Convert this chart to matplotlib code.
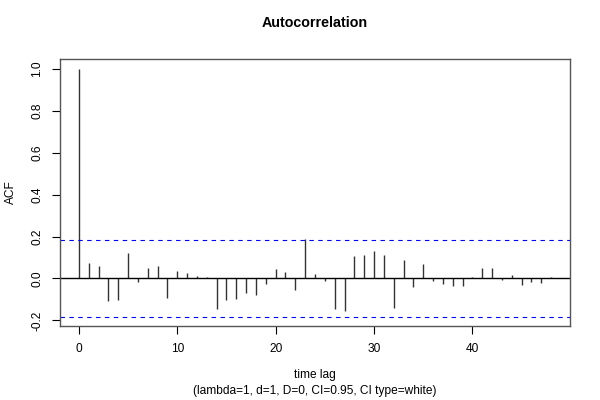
# ACF plot, R-style
import numpy as np
import matplotlib.pyplot as plt

# values
lags = list(range(49))
acf = [1.0, 0.072, 0.059, -0.107, -0.105, 0.12, -0.019, 0.052, 0.061, -0.093,
       0.036, 0.024, 0.011, 0.005, -0.144, -0.104, -0.10, -0.069, -0.077, -0.026,
       0.043, 0.029, -0.057, 0.187, 0.019, -0.011, -0.144, -0.155, 0.105, 0.112,
       0.129, 0.112, -0.14, 0.089, -0.043, 0.069, -0.011, -0.027, -0.038, -0.035,
       0.006, 0.051, 0.048, -0.006, 0.016, -0.033, -0.016, -0.022, 0.006]
ci = 0.183
x_ticks = [0, 10, 20, 30, 40]
y_ticks = [-0.2, 0.0, 0.2, 0.4, 0.6, 0.8, 1.0]

plt.rcParams['font.family'] = ['Liberation Sans', 'DejaVu Sans']

fig = plt.figure(figsize=(6, 4), dpi=100)
ax = fig.add_axes([0.1, 0.185, 0.85, 0.6675])

ax.vlines(lags, 0, acf, color='#333333', linewidth=1)
ax.axhline(0, color='black', linewidth=1)
ax.axhline(ci, color='blue', linewidth=0.8, linestyle=(0, (4, 4)))
ax.axhline(-ci, color='blue', linewidth=0.8, linestyle=(0, (4, 4)))

ax.set_xlim(-1.92, 49.92)
ax.set_ylim(-0.227, 1.047)
ax.set_xticks(x_ticks)
ax.set_yticks(y_ticks)
ax.set_xticklabels([str(t) for t in x_ticks], fontsize=8.6)
ax.set_yticklabels(['%.1f' % t for t in y_ticks], fontsize=8.6, rotation=90, va='center')
ax.tick_params(direction='out', length=6, width=0.8, pad=6)
for s in ax.spines.values():
    s.set_color('#555555')
    s.set_linewidth(1)

ax.set_ylabel('ACF', fontsize=8.6, labelpad=10)
fig.text(0.525, 0.942, 'Autocorrelation', ha='center', va='center', fontsize=10.3, fontweight='bold')
fig.text(0.525, 0.062, 'time lag', ha='center', va='center', fontsize=8.6)
fig.text(0.525, 0.022, '(lambda=1, d=1, D=0, CI=0.95, CI type=white)', ha='center', va='center', fontsize=8.6)

fig.savefig('out.png', dpi=100)
